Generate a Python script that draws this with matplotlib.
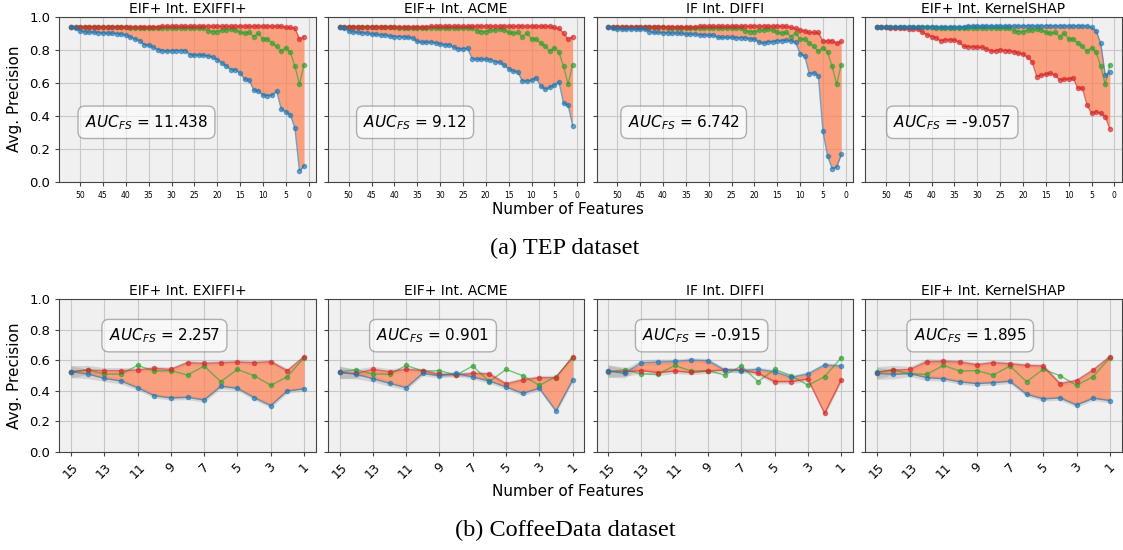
import numpy as np
import matplotlib
matplotlib.use("Agg")
import matplotlib.pyplot as plt

# ---------------- data ----------------
titles = ["EIF+ Int. EXIFFI+", "EIF+ Int. ACME", "IF Int. DIFFI", "EIF+ Int. KernelSHAP"]

# TEP dataset: number of features 52 -> 1
tep_x = list(range(52, 0, -1))
tep_auc = ["11.438", "9.12", "6.742", "-9.057"]

tep_green = [0.94] * 13 + [0.932] * 17 + [
    0.915, 0.91, 0.91, 0.92, 0.92, 0.925, 0.92, 0.905, 0.90, 0.905, 0.88, 0.90,
    0.865, 0.865, 0.84, 0.82, 0.79, 0.813, 0.785, 0.70, 0.59, 0.71]

tep_red = [
    [0.94] * 20 + [0.943] * 27 + [0.935, 0.935, 0.93, 0.865, 0.88],
    [0.94] * 20 + [0.943] * 27 + [0.935, 0.93, 0.90, 0.865, 0.88],
    [0.94] * 20 + [0.943] * 20 + [0.935, 0.93, 0.92, 0.915, 0.905, 0.905, 0.905,
                                  0.85, 0.855, 0.855, 0.84, 0.85],
    [0.94, 0.935, 0.935, 0.93, 0.93, 0.93, 0.93, 0.928, 0.928, 0.925, 0.905, 0.89,
     0.88, 0.87, 0.853, 0.86, 0.86, 0.858, 0.845, 0.82, 0.818, 0.818, 0.815, 0.815,
     0.804, 0.792, 0.792, 0.798, 0.795, 0.793, 0.788, 0.778, 0.773, 0.755, 0.727,
     0.636, 0.646, 0.652, 0.657, 0.646, 0.616, 0.62, 0.622, 0.626, 0.566, 0.566,
     0.465, 0.414, 0.424, 0.414, 0.394, 0.319],
]

tep_blue = [
    [0.94, 0.93, 0.915, 0.908, 0.907, 0.906, 0.904, 0.902, 0.90, 0.90, 0.898, 0.895,
     0.89, 0.875, 0.865, 0.855, 0.83, 0.828, 0.815, 0.80, 0.795, 0.792, 0.795, 0.795,
     0.795, 0.795, 0.77, 0.768, 0.768, 0.766, 0.762, 0.755, 0.74, 0.72, 0.70, 0.68,
     0.678, 0.66, 0.62, 0.615, 0.555, 0.55, 0.525, 0.522, 0.525, 0.55, 0.44, 0.425,
     0.405, 0.325, 0.065, 0.095],
    [0.94, 0.93, 0.915, 0.908, 0.905, 0.903, 0.90, 0.895, 0.893, 0.89, 0.89, 0.882,
     0.88, 0.88, 0.878, 0.875, 0.87, 0.85, 0.845, 0.845, 0.845, 0.842, 0.835, 0.83,
     0.83, 0.815, 0.805, 0.805, 0.81, 0.745, 0.742, 0.742, 0.742, 0.74, 0.728, 0.725,
     0.705, 0.685, 0.67, 0.665, 0.61, 0.61, 0.615, 0.63, 0.58, 0.56, 0.572, 0.585,
     0.605, 0.475, 0.465, 0.34],
    [0.94, 0.93, 0.928, 0.927, 0.927, 0.926, 0.926, 0.926, 0.925, 0.91, 0.905, 0.905,
     0.903, 0.903, 0.902, 0.90, 0.90, 0.895, 0.895, 0.894, 0.89, 0.89, 0.888, 0.888,
     0.875, 0.875, 0.874, 0.874, 0.873, 0.873, 0.872, 0.865, 0.865, 0.845, 0.84,
     0.848, 0.848, 0.855, 0.855, 0.857, 0.855, 0.845, 0.775, 0.762, 0.655, 0.66,
     0.64, 0.305, 0.155, 0.08, 0.09, 0.165],
    [0.94] * 20 + [0.945] * 27 + [0.935, 0.915, 0.838, 0.645, 0.665],
]

# CoffeeData dataset: number of features 15 -> 1
cof_x = list(range(15, 0, -1))
cof_auc = ["2.257", "0.901", "-0.915", "1.895"]

cof_green = [0.522, 0.537, 0.509, 0.507, 0.565, 0.528, 0.531, 0.502, 0.561, 0.459,
             0.539, 0.498, 0.435, 0.491, 0.616]

cof_red = [
    [0.524, 0.535, 0.531, 0.531, 0.535, 0.546, 0.539, 0.583, 0.578, 0.583, 0.587,
     0.583, 0.589, 0.531, 0.622],
    [0.519, 0.513, 0.539, 0.524, 0.539, 0.531, 0.507, 0.502, 0.513, 0.509, 0.444,
     0.470, 0.485, 0.485, 0.622],
    [0.528, 0.524, 0.531, 0.518, 0.528, 0.519, 0.528, 0.535, 0.535, 0.513, 0.459,
     0.459, 0.476, 0.251, 0.470],
    [0.518, 0.535, 0.539, 0.589, 0.591, 0.587, 0.570, 0.583, 0.576, 0.565, 0.561,
     0.446, 0.465, 0.535, 0.622],
]

cof_blue = [
    [0.524, 0.509, 0.480, 0.463, 0.419, 0.367, 0.352, 0.356, 0.339, 0.428, 0.415,
     0.354, 0.302, 0.398, 0.411],
    [0.519, 0.507, 0.478, 0.448, 0.419, 0.513, 0.498, 0.513, 0.489, 0.463, 0.424,
     0.382, 0.415, 0.267, 0.470],
    [0.528, 0.513, 0.583, 0.587, 0.591, 0.600, 0.596, 0.535, 0.531, 0.539, 0.524,
     0.487, 0.509, 0.568, 0.561],
    [0.513, 0.507, 0.511, 0.485, 0.478, 0.457, 0.446, 0.452, 0.461, 0.376, 0.346,
     0.352, 0.306, 0.350, 0.335],
]

# spread of the repeated runs (grey band)
tep_std = [0.004] * 52
cof_std = [0.04, 0.03, 0.02, 0.02, 0.015, 0.015, 0.015, 0.015, 0.015, 0.015,
           0.015, 0.015, 0.015, 0.015, 0.015]

# ---------------- plot ----------------
W, H = 1123, 550
fig = plt.figure(figsize=(W / 100, H / 100), dpi=100)

lefts = [59.3 + i * 268.6 for i in range(4)]
pw = 256.4


def draw(ax, x, red, green, blue, std, auc, title, box_xy):
    x = np.array(x)
    red = np.array(red)
    blue = np.array(blue)
    std = np.array(std)
    ax.set_facecolor("#f0f0f0")
    ax.fill_between(x, blue - std, blue + std, color="grey", alpha=0.25, lw=0)
    ax.fill_between(x, red - std, red + std, color="grey", alpha=0.25, lw=0)
    ax.fill_between(x, red, blue, color="coral", alpha=0.7, lw=0)
    ax.plot(x, green, color="tab:green", marker="o", ms=3, lw=1, alpha=0.6)
    ax.plot(x, red, color="tab:red", marker="o", ms=3, lw=1, alpha=0.6)
    ax.plot(x, blue, color="tab:blue", marker="o", ms=3, lw=1, alpha=0.6)
    ax.set_ylim(0, 1)
    ax.invert_xaxis()
    ax.grid(True, color="#c8c8c8", lw=0.8)
    ax.set_axisbelow(True)
    ax.set_title(title, fontsize=10, pad=3)
    ax.text(box_xy[0], box_xy[1], r"$AUC_{FS}$ = " + auc, transform=ax.transAxes,
            ha="center", va="center", fontsize=11,
            bbox=dict(boxstyle="round,pad=0.45", fc="white", ec="grey", alpha=0.6))
    for s in ax.spines.values():
        s.set_color("#444444")
    ax.set_yticks([0, 0.2, 0.4, 0.6, 0.8, 1.0])
    ax.tick_params(axis="y", labelsize=9.5, length=3, color="#444444")


for i in range(4):
    ax = fig.add_axes([lefts[i] / W, 1 - 181.7 / H, pw / W, 165 / H])
    draw(ax, tep_x, tep_red[i], tep_green, tep_blue[i], tep_std, tep_auc[i],
         titles[i], (0.34, 0.36))
    ax.set_xticks([50, 45, 40, 35, 30, 25, 20, 15, 10, 5, 0])
    ax.tick_params(axis="x", labelsize=5.5, length=3, color="#444444")
    if i > 0:
        ax.set_yticklabels([])

for i in range(4):
    ax = fig.add_axes([lefts[i] / W, 1 - 451.7 / H, pw / W, 152.7 / H])
    draw(ax, cof_x, cof_red[i], cof_green, cof_blue[i], cof_std, cof_auc[i],
         titles[i], (0.41, 0.76))
    ax.set_xticks([15, 13, 11, 9, 7, 5, 3, 1])
    ax.tick_params(axis="x", labelsize=9, length=3, color="#444444", rotation=45)
    if i > 0:
        ax.set_yticklabels([])

fig.text(15 / W, 1 - 99.2 / H, "Avg. Precision", rotation=90, ha="center", va="center", fontsize=11)
fig.text(15 / W, 1 - 375.4 / H, "Avg. Precision", rotation=90, ha="center", va="center", fontsize=11)
fig.text(568 / W, 1 - 210 / H, "Number of Features", ha="center", va="center", fontsize=11)
fig.text(568 / W, 1 - 492 / H, "Number of Features", ha="center", va="center", fontsize=11)
fig.text(565 / W, 1 - 248 / H, "(a) TEP dataset", ha="center", va="center",
         fontsize=17.5, family="Liberation Serif")
fig.text(565 / W, 1 - 530 / H, "(b) CoffeeData dataset", ha="center", va="center",
         fontsize=17.5, family="Liberation Serif")

fig.savefig("out.png", dpi=100)
